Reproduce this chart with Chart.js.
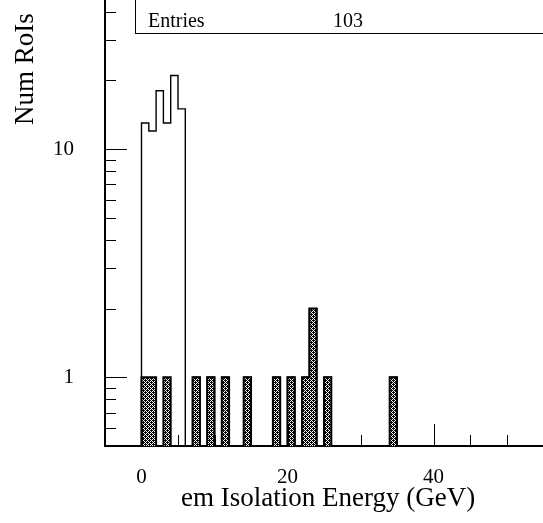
<!DOCTYPE html>
<html>
<head>
<meta charset="utf-8">
<script src="https://cdn.jsdelivr.net/npm/chart.js@4.4.1/dist/chart.umd.min.js"></script>
<style>
  html, body { margin: 0; padding: 0; background: #ffffff; }
  #wrap { width: 543px; height: 523px; }
</style>
</head>
<body>
<div id="wrap"><canvas id="c" width="543" height="523"></canvas></div>
<script>
// em isolation energy of RoIs, 1 GeV bins starting at 0 GeV
const binLowEdges = [0, 1, 2, 3, 4, 5, 6, 7, 8, 9, 10, 11, 12, 13, 14, 15, 16, 17,
                     18, 19, 20, 21, 22, 23, 24, 25, 26, 27, 28, 29, 30, 31, 32, 33, 34, 35];
const binWidth = 1;

// all RoIs (open histogram)
const allRoIs = [13, 12, 18, 13, 21, 15, 0, 1, 0, 1, 0, 1, 0, 0, 1, 0, 0, 0,
                 1, 0, 1, 0, 1, 2, 0, 1, 0, 0, 0, 0, 0, 0, 0, 0, 1, 0];
// selected RoIs (hatched histogram)
const selectedRoIs = [1, 1, 0, 1, 0, 0, 0, 1, 0, 1, 0, 1, 0, 0, 1, 0, 0, 0,
                      1, 0, 1, 0, 1, 2, 0, 1, 0, 0, 0, 0, 0, 0, 0, 0, 1, 0];

const xLabelTicks = [0, 20, 40];
const xMinorTicks = [5, 10, 15, 25, 30, 35, 45, 50];
const yLabelTicks = [1, 10];
const yMinorTicks = [0.6, 0.7, 0.8, 0.9, 2, 3, 4, 5, 6, 7, 8, 9, 20, 30, 40];

const xRange = [-5, 55];
const yRange = [0.5, 45];

const xTitle = 'em Isolation Energy (GeV)';
const yTitle = 'Num RoIs';
const entries = allRoIs.reduce((a, b) => a + b, 0);

const FONT = "'Liberation Serif', 'Times New Roman', serif";

// Step outline points: each bin drawn flat from its low edge to the next edge;
// empty bins sit on the bottom of the log axis
function stepPoints(counts, floor) {
  const pts = [{ x: binLowEdges[0], y: floor }];
  counts.forEach((c, i) => pts.push({ x: binLowEdges[i], y: c > 0 ? c : floor }));
  pts.push({ x: binLowEdges[binLowEdges.length - 1] + binWidth, y: floor });
  return pts;
}

// Checkered fill pattern
function makePattern() {
  const t = document.createElement('canvas');
  t.width = 4; t.height = 4;
  const g = t.getContext('2d');
  g.fillStyle = '#ffffff';
  g.fillRect(0, 0, 4, 4);
  g.fillStyle = '#000000';
  for (let yy = 0; yy < 4; yy++) {
    for (let xx = 0; xx < 4; xx++) {
      const dark = (xx + yy) % 2 === 0 || (xx === 1 && yy === 0) || (xx === 3 && yy === 2);
      if (dark) g.fillRect(xx, yy, 1, 1);
    }
  }
  return g.createPattern(t, 'repeat');
}

// Keep the plot frame flush with the canvas edges
function noScalePadding(s) {
  s.paddingTop = 0; s.paddingBottom = 0; s.paddingLeft = 0; s.paddingRight = 0;
}

// Inward-pointing ticks, axis titles and the statistics box
const frameDecor = {
  id: 'frameDecor',
  afterDraw(chart) {
    const ctx = chart.ctx;
    const xs = chart.scales.x, ys = chart.scales.y;
    const { left, right, top, bottom } = chart.chartArea;
    ctx.save();
    ctx.strokeStyle = '#000000';
    ctx.lineWidth = 1;
    ctx.beginPath();
    const xTick = (v, len) => {
      const px = Math.round(xs.getPixelForValue(v)) + 0.5;
      if (px < left || px > right) return;
      ctx.moveTo(px, bottom); ctx.lineTo(px, bottom - len);
    };
    const yTick = (v, len) => {
      const py = Math.round(ys.getPixelForValue(v)) + 0.5;
      if (py < top || py > bottom) return;
      ctx.moveTo(left, py); ctx.lineTo(left + len, py);
    };
    xLabelTicks.forEach(v => xTick(v, 22));
    xMinorTicks.forEach(v => xTick(v, 11));
    yLabelTicks.forEach(v => yTick(v, 22));
    yMinorTicks.forEach(v => yTick(v, 11));
    ctx.stroke();

    // axis titles
    ctx.fillStyle = '#000000';
    ctx.font = '27px ' + FONT;
    ctx.textAlign = 'left';
    ctx.textBaseline = 'alphabetic';
    ctx.fillText(xTitle, 181, 506);

    ctx.save();
    ctx.translate(33, 125);
    ctx.rotate(-Math.PI / 2);
    ctx.fillText(yTitle, 0, 0);
    ctx.restore();

    // statistics box
    ctx.fillStyle = '#ffffff';
    ctx.fillRect(135.5, -2, 420, 35.5);
    ctx.strokeRect(135.5, -2, 420, 35.5);
    ctx.fillStyle = '#000000';
    ctx.font = '20px ' + FONT;
    ctx.fillText('Entries', 148, 27);
    ctx.fillText(String(entries), 333, 27);
    ctx.restore();
  }
};

const ctx = document.getElementById('c').getContext('2d');
new Chart(ctx, {
  type: 'line',
  data: {
    datasets: [
      {
        label: 'selected',
        data: stepPoints(selectedRoIs, yRange[0]),
        stepped: 'before',
        borderColor: '#000000',
        borderWidth: 2,
        backgroundColor: makePattern(),
        fill: 'start',
        pointRadius: 0,
        tension: 0
      },
      {
        label: 'all',
        data: stepPoints(allRoIs, yRange[0]),
        stepped: 'before',
        borderColor: '#000000',
        borderWidth: 1.4,
        fill: false,
        pointRadius: 0,
        tension: 0
      }
    ]
  },
  options: {
    responsive: false,
    animation: false,
    events: [],
    layout: { padding: 0 },
    plugins: { legend: { display: false }, tooltip: { enabled: false }, title: { display: false } },
    scales: {
      x: {
        type: 'linear',
        min: xRange[0],
        max: xRange[1],
        afterBuildTicks: s => { s.ticks = xLabelTicks.map(v => ({ value: v })); },
        afterFit: s => { s.height = 77; noScalePadding(s); },
        grid: { display: false, drawTicks: false },
        border: { display: true, color: '#000000', width: 2 },
        ticks: {
          color: '#000000',
          font: { family: FONT, size: 21 },
          padding: 19,
          maxRotation: 0,
          autoSkip: false
        }
      },
      y: {
        type: 'logarithmic',
        min: yRange[0],
        max: yRange[1],
        afterBuildTicks: s => { s.ticks = yLabelTicks.map(v => ({ value: v })); },
        afterFit: s => { s.width = 105; noScalePadding(s); },
        grid: { display: false, drawTicks: false },
        border: { display: true, color: '#000000', width: 2 },
        ticks: {
          color: '#000000',
          font: { family: FONT, size: 21 },
          padding: 31,
          autoSkip: false,
          callback: v => String(v)
        }
      }
    }
  },
  plugins: [frameDecor]
});
</script>
</body>
</html>
